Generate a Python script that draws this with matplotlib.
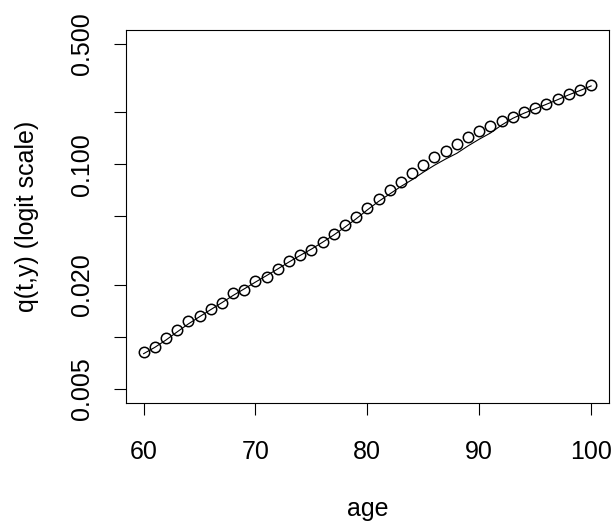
import matplotlib
matplotlib.use("Agg")
import matplotlib.pyplot as plt
from matplotlib.ticker import FixedLocator, FixedFormatter, NullLocator

plt.rcParams['font.family'] = ['Liberation Sans', 'DejaVu Sans']

# observed rates (open circles), ages 60..100
ages = list(range(60, 101))
q_obs = [0.00822, 0.00879, 0.00984, 0.0110, 0.0123, 0.0132, 0.0146, 0.0158,
         0.0180, 0.0188, 0.0210, 0.0224, 0.0247, 0.0276, 0.0299, 0.0320,
         0.0357, 0.0396, 0.0447, 0.0499, 0.0562, 0.0630, 0.0713, 0.0796,
         0.0889, 0.0995, 0.1107, 0.1202, 0.1315, 0.1438, 0.1552, 0.166,
         0.1775, 0.188, 0.200, 0.212, 0.224, 0.239, 0.255, 0.270, 0.289]

# fitted curve (solid line)
q_fit = [0.0080, 0.0087, 0.0096, 0.0107, 0.0119, 0.0131, 0.0144, 0.0158,
         0.0174, 0.0190, 0.0208, 0.0227, 0.0248, 0.0272, 0.0297, 0.0323,
         0.0354, 0.0390, 0.0433, 0.0484, 0.0545, 0.0610, 0.0674, 0.0745,
         0.0815, 0.0901, 0.0989, 0.1075, 0.116, 0.128, 0.140, 0.152,
         0.169, 0.185, 0.198, 0.210, 0.223, 0.237, 0.253, 0.268, 0.285]

x_ticks = [60, 70, 80, 90, 100]
y_ticks = [0.005, 0.01, 0.02, 0.05, 0.1, 0.2, 0.5]
y_labels = ['0.005', '', '0.020', '', '0.100', '', '0.500']

fig = plt.figure(figsize=(6.13, 5.22), dpi=100)
ax = fig.add_axes([125.7 / 613, 1 - 402.7 / 522, 483.3 / 613, 372.7 / 522])

ax.plot(ages, q_fit, color='black', lw=0.8)
ax.plot(ages, q_obs, linestyle='none', marker='o', markersize=7.5,
        markerfacecolor='none', markeredgecolor='black', markeredgewidth=1.1)

ax.set_yscale('log')
# R-style 4% padding around xlim/ylim
ax.set_xlim(60 - 1.6, 100 + 1.6)
lo, hi = 0.005, 0.5
pad = (hi / lo) ** 0.04
ax.set_ylim(lo / pad, hi * pad)

ax.xaxis.set_major_locator(FixedLocator(x_ticks))
ax.yaxis.set_major_locator(FixedLocator(y_ticks))
ax.yaxis.set_major_formatter(FixedFormatter(y_labels))
ax.yaxis.set_minor_locator(NullLocator())

ax.tick_params(axis='both', length=8.8, width=0.8, labelsize=18, color='black')
ax.tick_params(axis='x', pad=18)
ax.tick_params(axis='y', pad=14)
for lab in ax.get_yticklabels():
    lab.set_rotation(90)
    lab.set_va('center')

for sp in ax.spines.values():
    sp.set_linewidth(0.8)

ax.set_xlabel('age', fontsize=18)
ax.xaxis.set_label_coords(0.5, -0.252)
ax.set_ylabel('q(t,y) (logit scale)', fontsize=18)
ax.yaxis.set_label_coords(-0.18, 0.5)

fig.savefig('out.png', dpi=100)
